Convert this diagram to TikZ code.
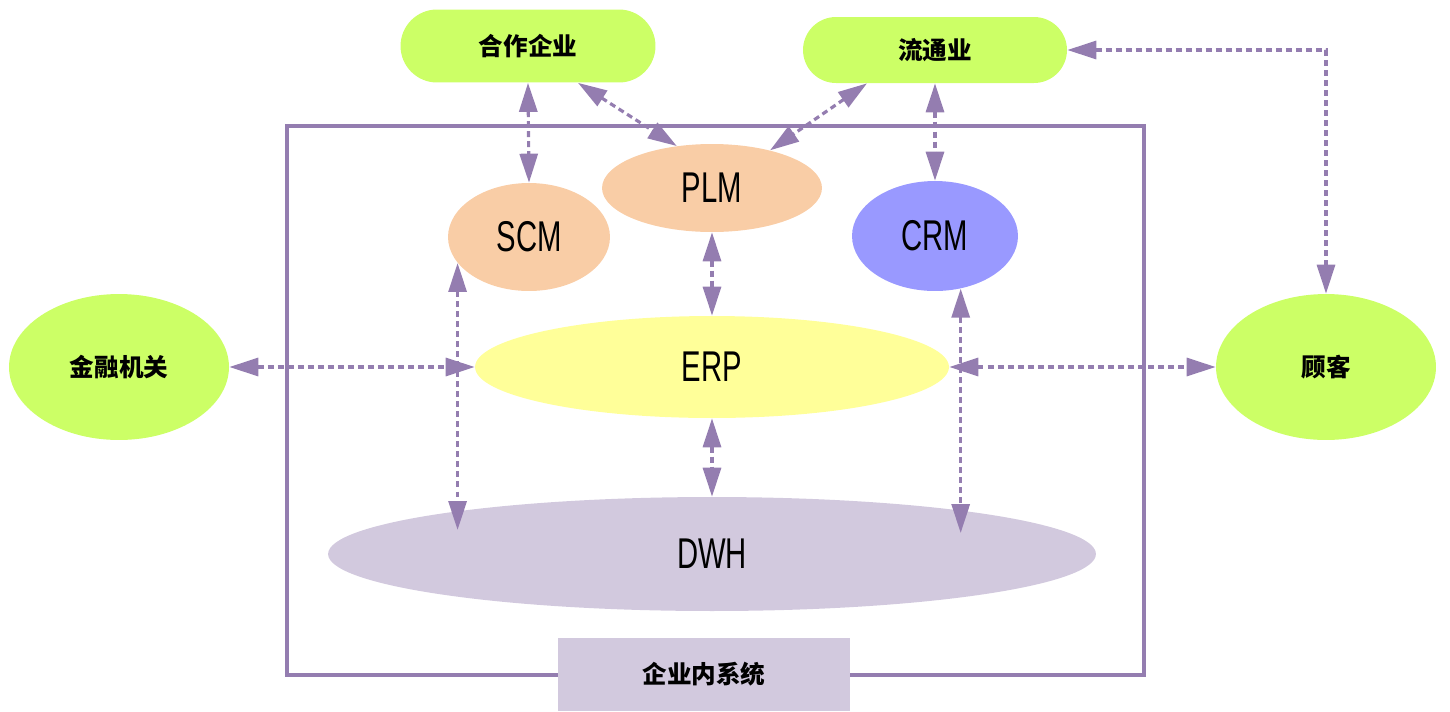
\documentclass[tikz,border=0pt]{standalone}
\usepackage{fontspec}
\usetikzlibrary{arrows.meta,shapes.geometric}
\newfontfamily\cjk{Noto Sans CJK SC}
\newfontfamily\narrowfont{Liberation Sans}[FakeStretch=0.68]
\definecolor{partner}{RGB}{204,255,102}
\definecolor{peach}{RGB}{249,205,166}
\definecolor{crmblue}{RGB}{153,153,255}
\definecolor{erpyellow}{RGB}{255,255,153}
\definecolor{dwhgrey}{RGB}{210,201,222}
\definecolor{linkviolet}{RGB}{148,125,176}
\begin{document}
\begin{tikzpicture}[x=0.02cm,y=-0.02cm,
	outer/.style={fill=partner,inner sep=0,font=\cjk\bfseries\fontsize{14pt}{16pt}\selectfont},
	inner/.style={ellipse,inner sep=0,font=\narrowfont\fontsize{24.5pt}{27pt}\selectfont},
	link/.style={draw=linkviolet,line width=1.8pt,dash pattern=on 3.4pt off 2.3pt,{Triangle[length=0.58cm,width=0.36cm]}-{Triangle[length=0.58cm,width=0.36cm]}}]
	\useasboundingbox (0,0) rectangle (1450,711);
	% outside partners
	\node[outer,rectangle,rounded corners=0.73cm,minimum width=5.1cm,minimum height=1.46cm] (hz) at (528,46) {合作企业};
	\node[outer,rectangle,rounded corners=0.66cm,minimum width=5.28cm,minimum height=1.32cm] (lt) at (935,50) {流通业};
	\node[outer,ellipse,minimum width=4.4cm,minimum height=2.92cm] (jr) at (119,367) {金融机关};
	\node[outer,ellipse,minimum width=4.4cm,minimum height=2.92cm] (gk) at (1326,367) {顾客};
	% enterprise frame
	\draw[linkviolet,line width=2.8pt] (287,126) rectangle (1144,675);
	\node[fill=dwhgrey,minimum width=5.86cm,minimum height=1.46cm,inner sep=0,font=\cjk\bfseries\fontsize{14pt}{16pt}\selectfont] (qy) at (704,674) {企业内系统};
	% internal systems
	\node[inner,fill=peach,minimum width=3.24cm,minimum height=2.16cm] (scm) at (529,237) {SCM};
	\node[inner,fill=peach,minimum width=4.4cm,minimum height=1.76cm] (plm) at (712,188) {PLM};
	\node[inner,fill=crmblue,minimum width=3.32cm,minimum height=2.2cm] (crm) at (935,236) {CRM};
	\node[inner,fill=erpyellow,minimum width=9.48cm,minimum height=2.04cm] (erp) at (712,367) {ERP};
	\node[inner,fill=dwhgrey,minimum width=15.36cm,minimum height=2.28cm] (dwh) at (712,554) {DWH};
	% links
	\draw[link] (hz.south) -- (scm.north);
	\draw[link] ([xshift=1cm]hz.south) -- (plm.130);
	\draw[link] ([xshift=-1.36cm]lt.south) -- (plm.33);
	\draw[link] (lt.south) -- (crm.north);
	\draw[link] (lt.east) -| (gk.north);
	\draw[link] (plm.south) -- (erp.north);
	\draw[link] (erp.south) -- (dwh.north);
	\draw[link] (jr.east) -- (erp.west);
	\draw[link] (erp.east) -- (gk.west);
	\draw[link,shorten >=0.48cm] (scm.200) -- (scm.200 |- dwh.west);
	\draw[link,shorten >=0.42cm] (crm.-64) -- (crm.-64 |- dwh.east);
\end{tikzpicture}
\end{document}
